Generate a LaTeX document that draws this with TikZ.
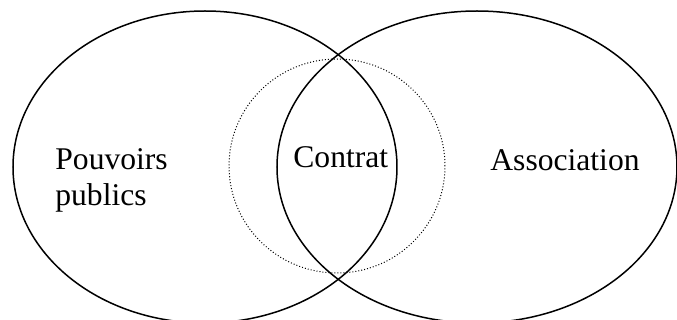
\documentclass[tikz,border=0pt]{standalone}
\usepackage{fontspec}
\setmainfont{Liberation Serif}

\tikzset{
  setline/.style={line width=0.75pt},
  overlap/.style={line width=0.5pt, dash pattern=on 0.5pt off 1pt},
  label/.style={anchor=base west, inner sep=0pt, font=\fontsize{15.8}{19}\selectfont}
}

\begin{document}
\begin{tikzpicture}[x=0.5pt, y=-0.5pt]
    \useasboundingbox (0,0) rectangle (677,320);
    \clip (0,0) rectangle (677,320);

    % Sets
    \draw[setline] (205,167) ellipse [x radius=96pt, y radius=78pt];
    \draw[setline] (477,167) ellipse [x radius=100pt, y radius=78pt];
    \draw[overlap] (337,166) ellipse [x radius=54pt, y radius=53.5pt];

    % Labels
    \node[label] (pouvoirs) at (55,170) {Pouvoirs};
    \node[label] (publics) at (55,206) {publics};
    \node[label] (contrat) at (293,168) {Contrat};
    \node[label] (association) at (490,171) {Association};
\end{tikzpicture}
\end{document}
